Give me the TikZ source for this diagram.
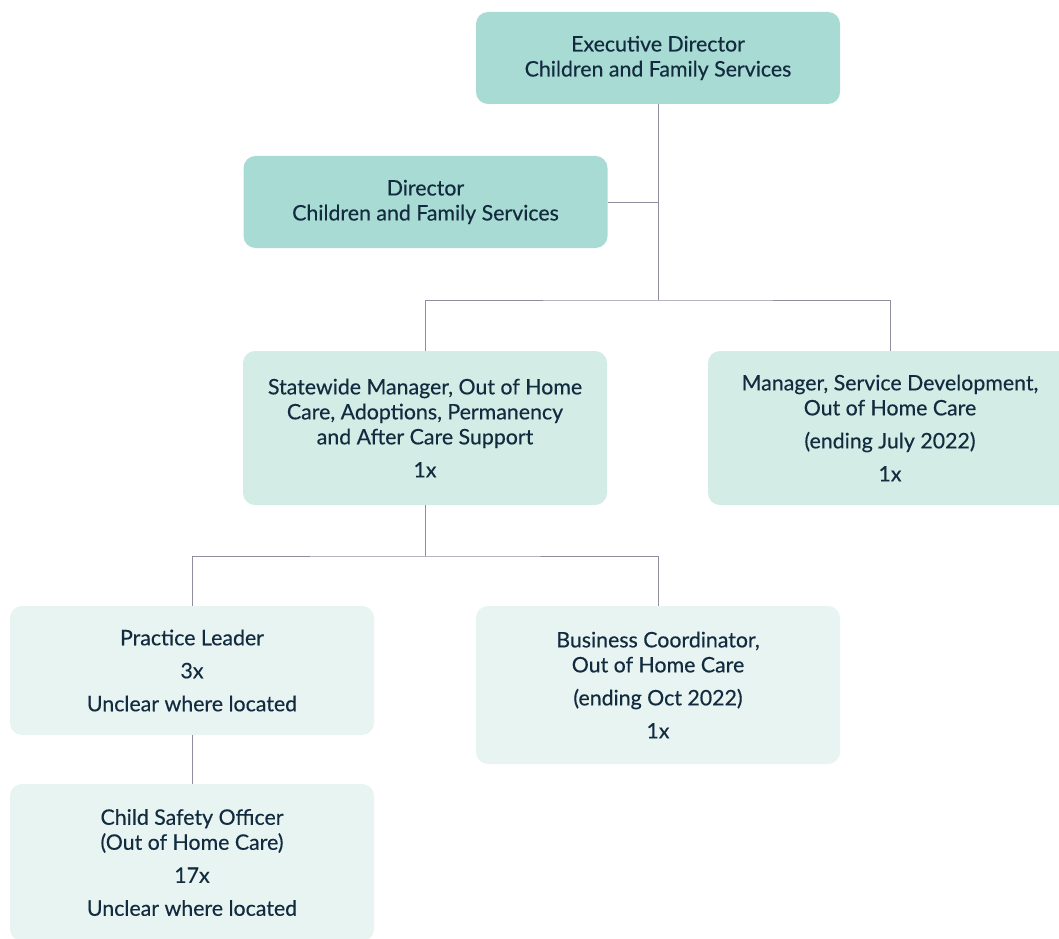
\documentclass[tikz,border=0pt]{standalone}
\usepackage{fontspec}
\setmainfont{Lato}[FakeBold=0.35]
\definecolor{dark}{HTML}{A8DBD3}
\definecolor{mid}{HTML}{D4ECE6}
\definecolor{light}{HTML}{E8F4F1}
\definecolor{txt}{HTML}{132B3F}
\definecolor{ln}{HTML}{8E8E9E}
\tikzset{
  box/.style={rounded corners=9pt, inner sep=0pt, align=center, text=txt,
    minimum width=273pt, font=\fontsize{16pt}{18.75pt}\selectfont},
  conn/.style={draw=ln, line width=0.75pt}
}
\begin{document}
\begin{tikzpicture}[x=0.75pt,y=-0.75pt]
\useasboundingbox (0,0) rectangle (1059,938);
\clip (0,0) rectangle (1059,938);
\fill[white] (0,0) rectangle (1059,938);
\node[box, fill=dark, minimum height=69pt] (exec) at (658,58) {Executive Director\\Children and Family Services};
\node[box, fill=dark, minimum height=69pt] (dir) at (425.5,202) {Director\\Children and Family Services};
\node[box, fill=mid, minimum height=115.5pt] (sw) at (425,428) {Statewide Manager, Out of Home\\Care, Adoptions, Permanency\\and After Care Support\\[6pt]1x};
\node[box, fill=mid, minimum height=115.5pt] (msd) at (890,428) {Manager, Service Development,\\Out of Home Care\\[6pt](ending July 2022)\\[6pt]1x};
\node[box, fill=light, minimum height=96.75pt] (pl) at (192,670.5) {Practice Leader\\[6pt]3x\\[6pt]Unclear where located};
\node[box, fill=light, minimum height=118.5pt] (bc) at (658,685) {Business Coordinator,\\Out of Home Care\\[6pt](ending Oct 2022)\\[6pt]1x};
\node[box, fill=light, minimum height=117.75pt] (cso) at (192,862.5) {Child Safety Officer\\(Out of Home Care)\\[6pt]17x\\[6pt]Unclear where located};
\coordinate (j1) at (exec.south |- 0,300);
\coordinate (j2) at (sw.south |- 0,556);
\draw[conn] (exec.south) -- (j1);
\draw[conn] (dir.east) -- (dir.east -| j1);
\draw[conn] (sw.north) |- (j1) -| (msd.north);
\draw[conn] (sw.south) -- (j2);
\draw[conn] (pl.north) |- (j2) -| (bc.north);
\draw[conn] (pl.south) -- (cso.north);
\end{tikzpicture}
\end{document}
